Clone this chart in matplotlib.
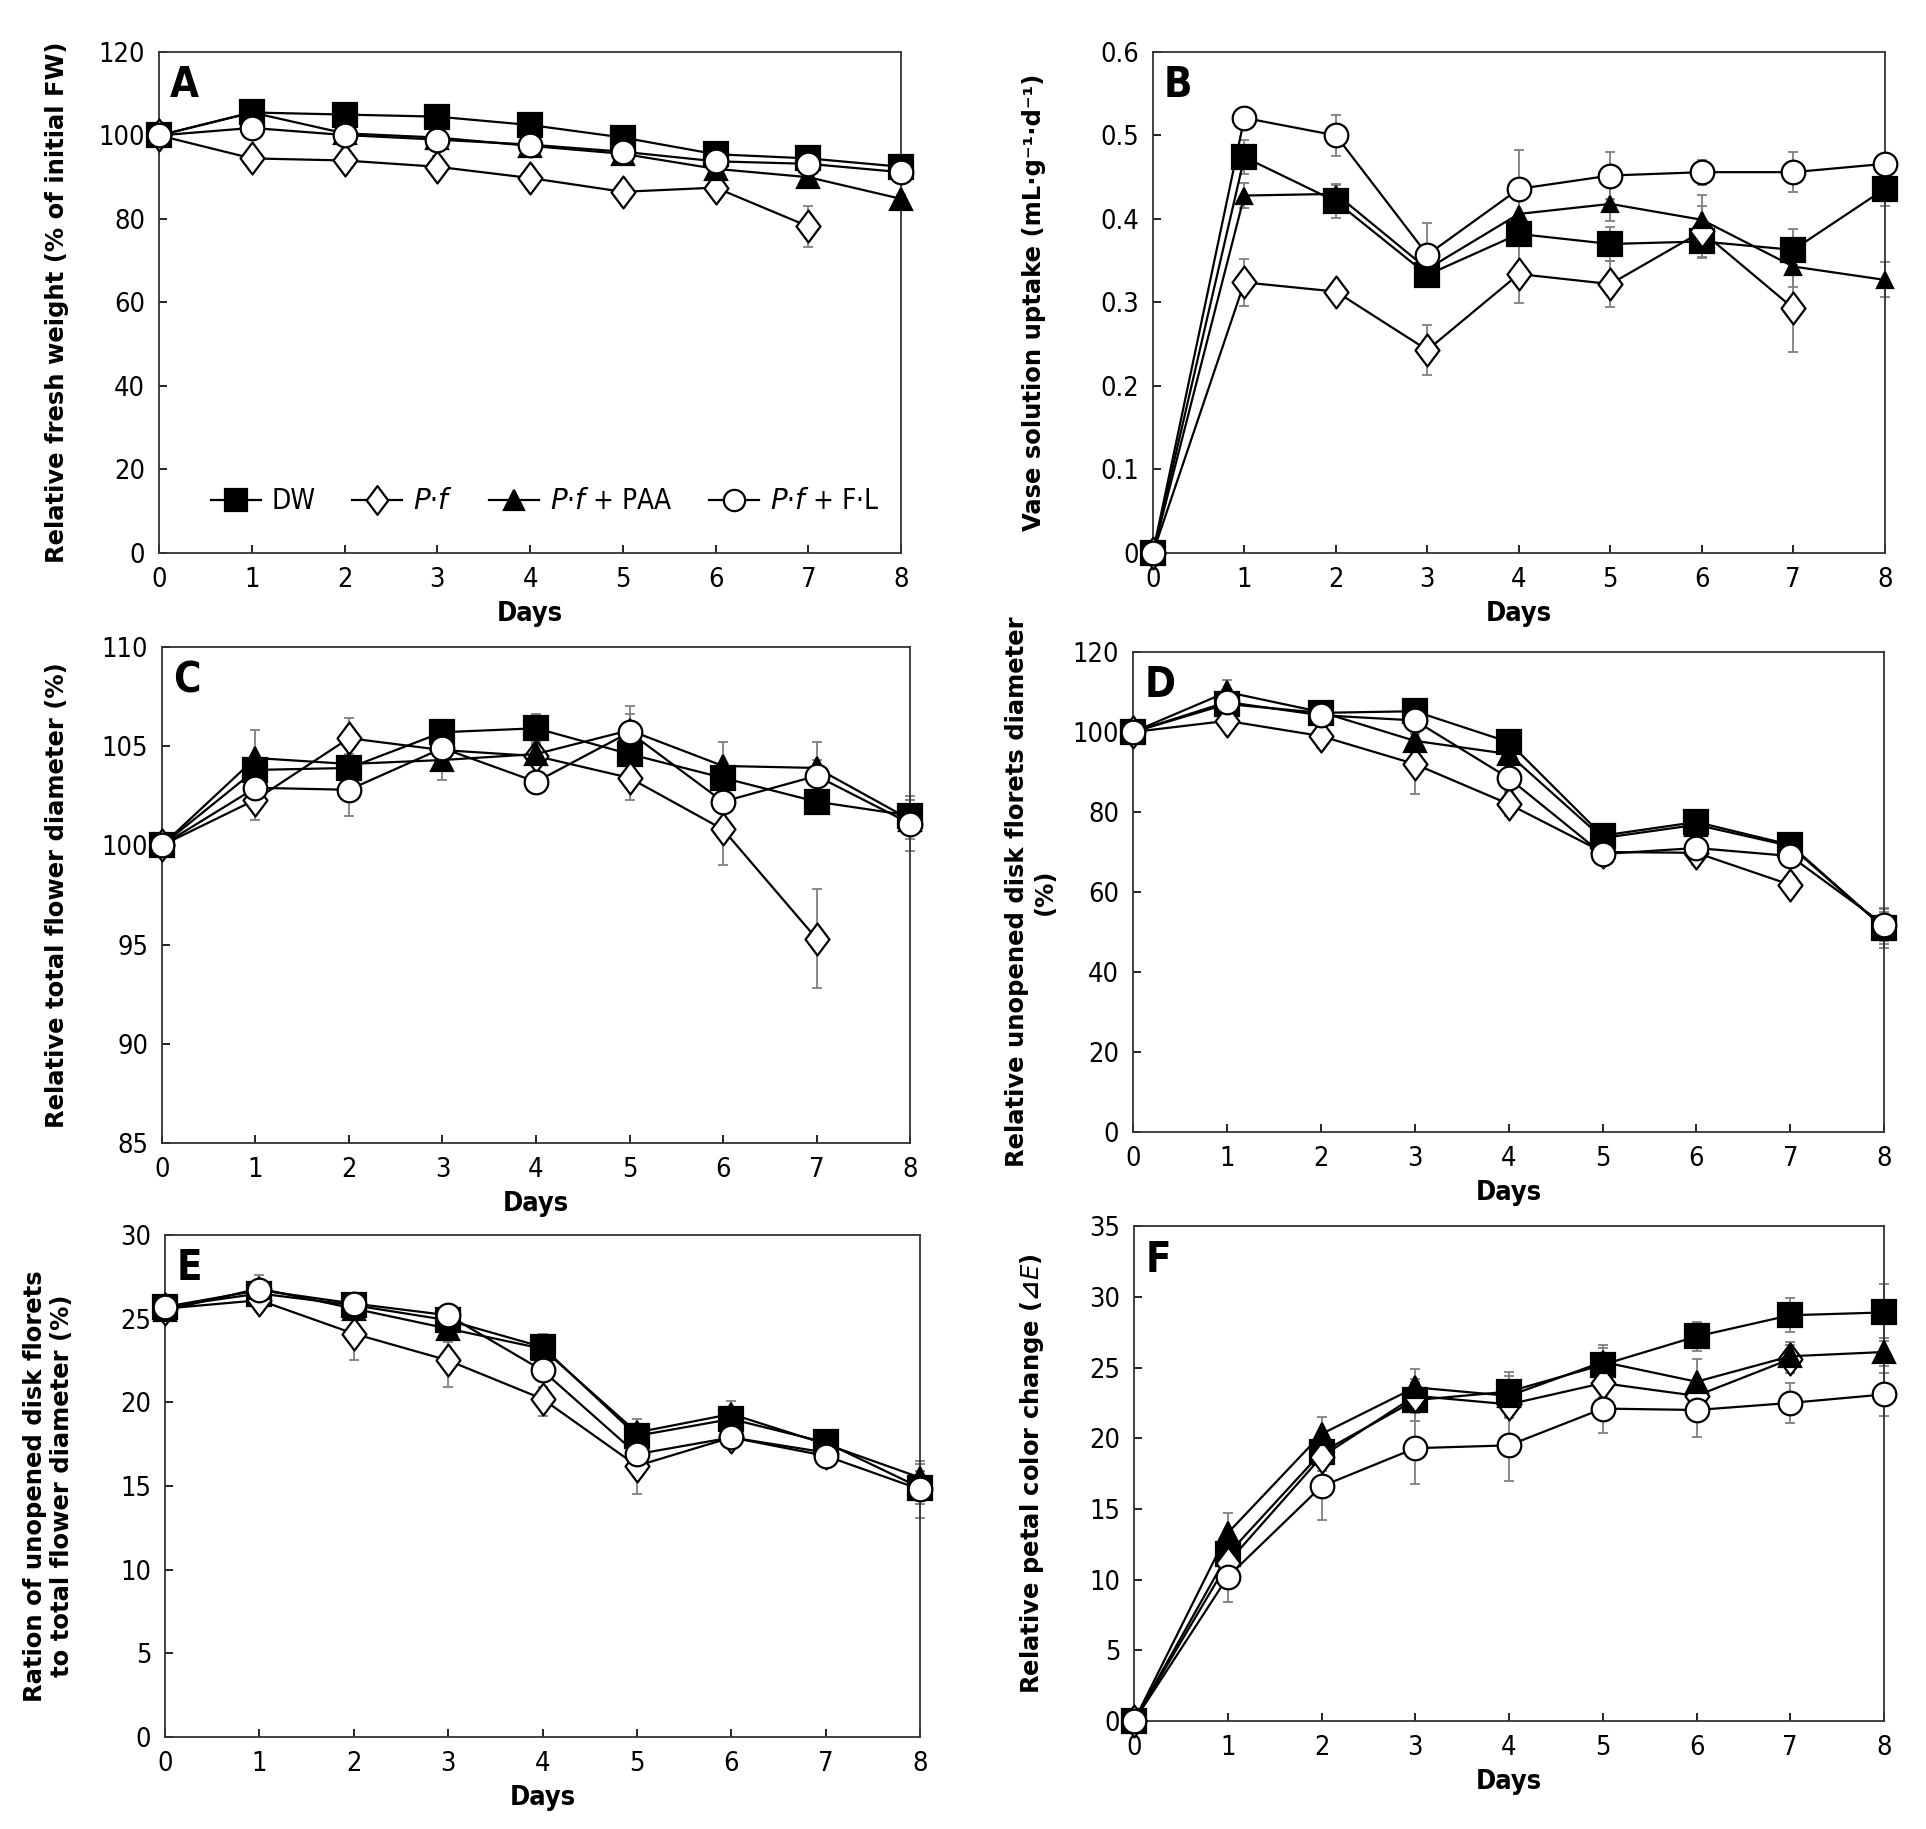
import matplotlib
matplotlib.use('Agg')
import matplotlib.pyplot as plt
import matplotlib.font_manager as fm
from matplotlib.path import Path

days = [0, 1, 2, 3, 4, 5, 6, 7, 8]
days_pf = [0, 1, 2, 3, 4, 5, 6, 7]

# A - relative fresh weight
a_dw = [100, 105.5, 105, 104.5, 102.5, 99.5, 95.5, 94.5, 92.5]
a_pf = [100, 94.5, 94, 92.5, 89.8, 86.5, 87.5, 78.2]
a_paa = [100, 105.5, 100.5, 99.5, 97.5, 95.6, 92, 90, 84.8]
a_fl = [100, 101.8, 100.1, 99, 97.8, 96.1, 93.8, 93.2, 91.2]
a_dw_err = [0, 2, 1, 1, 1, 1, 1, 1, 1]
a_pf_err = [0, 1, 1, 2.5, 1, 1, 1, 5]
a_paa_err = [0, 1, 1, 1, 1, 1, 1, 1, 1]
a_fl_err = [0, 1, 1, 1, 1, 1, 1, 1, 1]

# B - vase solution uptake
b_dw = [0, 0.474, 0.421, 0.333, 0.382, 0.370, 0.373, 0.363, 0.436]
b_pf = [0, 0.324, 0.313, 0.243, 0.334, 0.322, 0.385, 0.293]
b_paa = [0, 0.428, 0.430, 0.340, 0.406, 0.418, 0.399, 0.343, 0.327]
b_fl = [0, 0.521, 0.500, 0.357, 0.436, 0.452, 0.456, 0.456, 0.466]
b_dw_err = [0, 0.02, 0.02, 0.015, 0.015, 0.02, 0.02, 0.025, 0.02]
b_pf_err = [0, 0.028, 0.01, 0.03, 0.035, 0.028, 0.03, 0.052]
b_paa_err = [0, 0.015, 0.012, 0.01, 0.03, 0.02, 0.03, 0.025, 0.021]
b_fl_err = [0, 0.01, 0.025, 0.038, 0.046, 0.028, 0.015, 0.024, 0.01]

# C - relative total flower diameter
c_dw = [100, 103.8, 103.9, 105.7, 105.9, 104.6, 103.4, 102.2, 101.5]
c_pf = [100, 102.3, 105.4, 104.8, 104.5, 103.4, 100.8, 95.3]
c_paa = [100, 104.4, 104.1, 104.3, 104.6, 105.8, 104.0, 103.9, 101.3]
c_fl = [100, 102.9, 102.8, 104.9, 103.2, 105.7, 102.2, 103.5, 101.1]
c_dw_err = [0, 0.5, 0.5, 0.5, 0.7, 0.5, 0.7, 0.5, 0.8]
c_pf_err = [0, 1, 1, 0.6, 0.5, 1.1, 1.8, 2.5]
c_paa_err = [0, 1.4, 0.5, 1, 0.5, 0.8, 1.2, 1.3, 1.0]
c_fl_err = [0, 0.6, 1.3, 0.6, 0.5, 1.3, 0.6, 0.8, 1.4]

# D - relative unopened disk florets diameter
d_dw = [100, 107, 104.8, 105.2, 97.5, 74.1, 77.5, 71.8, 51]
d_pf = [100, 102.8, 99, 92, 82, 70, 69.8, 61.8]
d_paa = [100, 110, 105, 97.8, 94.5, 73.5, 76.8, 71.5, 51]
d_fl = [100, 107.5, 104.2, 102.9, 88.5, 69.5, 71.0, 69.0, 51.8]
d_dw_err = [0, 2, 2, 1, 2, 3, 3, 2, 4]
d_pf_err = [0, 2, 3, 7.5, 3, 2, 3, 2]
d_paa_err = [0, 3, 2, 2, 3, 2, 2, 2, 5]
d_fl_err = [0, 2, 2, 2, 3, 2, 2, 2, 4]

# E - ratio unopened disk florets / total flower diameter
e_dw = [25.7, 26.5, 25.8, 24.9, 23.3, 18.0, 19.0, 17.6, 14.9]
e_pf = [25.6, 26.1, 24.1, 22.5, 20.2, 16.2, 17.9, 17.0]
e_paa = [25.5, 26.8, 25.6, 24.4, 23.2, 18.2, 19.3, 17.5, 15.5]
e_fl = [25.7, 26.7, 25.9, 25.2, 21.9, 16.9, 17.9, 16.8, 14.8]
e_dw_err = [0, 0.5, 0.5, 0.5, 0.8, 0.6, 0.6, 0.5, 1.0]
e_pf_err = [0, 0.5, 1.6, 1.6, 1.0, 1.7, 0.5, 0.5]
e_paa_err = [0, 0.5, 0.5, 0.8, 0.8, 0.8, 0.8, 0.5, 0.8]
e_fl_err = [0, 0.9, 0.5, 0.5, 1.0, 0.5, 0.5, 0.5, 1.7]

# F - relative petal color change
f_dw = [0, 11.8, 19.0, 22.7, 23.3, 25.2, 27.2, 28.7, 28.9]
f_pf = [0, 11.2, 18.7, 23.0, 22.4, 23.9, 23.0, 25.6]
f_paa = [0, 13.3, 20.3, 23.6, 23.0, 25.4, 24.0, 25.8, 26.1]
f_fl = [0, 10.2, 16.6, 19.3, 19.5, 22.1, 22.0, 22.5, 23.1]
f_dw_err = [0, 1, 1, 1.5, 1.4, 1.2, 1, 1.2, 2]
f_pf_err = [0, 1, 1, 1, 1, 1, 1, 1]
f_paa_err = [0, 1.4, 1.2, 1.3, 1.4, 1.2, 1.6, 1.0, 1.0]
f_fl_err = [0, 1.8, 2.4, 2.5, 2.5, 1.7, 1.9, 1.4, 1.5]

legend_labels = ['DW', '$P$·$f$', '$P$·$f$ + PAA', '$P$·$f$ + F·L']

names = {f.name for f in fm.fontManager.ttflist}
if 'Liberation Sans Narrow' in names:
    narrow = dict(family='Liberation Sans Narrow')
else:
    narrow = dict(family='DejaVu Sans', stretch='condensed')

plt.rcParams['font.family'] = ['DejaVu Sans', 'Noto Sans CJK KR']
plt.rcParams['mathtext.fontset'] = 'custom'
plt.rcParams['mathtext.it'] = narrow['family'] + ':italic'
plt.rcParams['mathtext.rm'] = narrow['family']

diamond = Path([(0, 1), (0.75, 0), (0, -1), (-0.75, 0), (0, 1)],
               [Path.MOVETO, Path.LINETO, Path.LINETO, Path.LINETO, Path.CLOSEPOLY])

fig = plt.figure(figsize=(19.26, 18.29), dpi=100)


def panel(rect, letter, series, ylim, yticks, ylabel, lab_x, tri_size=16, ytick_labels=None):
    ax = fig.add_axes(rect)
    styles = [('s', 'black', 17), (diamond, 'white', 23), ('^', 'black', tri_size), ('o', 'white', 17)]
    handles = []
    for (x, y, err), (mk, fc, ms) in zip(series, styles):
        ax.errorbar(x, y, yerr=err, fmt='none', ecolor='#808080', elinewidth=1.3,
                    capsize=3.5, capthick=1.3, zorder=2, clip_on=False)
        h, = ax.plot(x, y, color='black', lw=1.6, marker=mk, ms=ms, mfc=fc, mec='black',
                     mew=1.6, zorder=3, clip_on=False)
        handles.append(h)
    ax.set_xlim(0, 8)
    ax.set_ylim(*ylim)
    ax.set_xticks(days)
    ax.set_yticks(yticks)
    if ytick_labels is not None:
        ax.set_yticklabels(ytick_labels)
    ax.tick_params(direction='in', length=6, width=1.2, labelsize=18, pad=10)
    for lab in ax.get_xticklabels() + ax.get_yticklabels():
        lab.set_fontproperties(fm.FontProperties(size=19.5, **narrow))
    for sp in ax.spines.values():
        sp.set_linewidth(1.3)
        sp.set_color('#333333')
    ax.set_xlabel('Days', fontsize=19.5, fontweight='bold', labelpad=6, **narrow)
    ax.set_ylabel(ylabel, fontsize=17.5, fontweight='bold', linespacing=1.2)
    ax.yaxis.set_label_coords(lab_x, 0.5)
    ax.text(0.015, 0.975, letter, transform=ax.transAxes, ha='left', va='top',
            fontsize=30, fontweight='bold', **narrow)
    return ax, handles


ax, hs = panel([0.0826, 0.6977, 0.3853, 0.2739], 'A',
               [(days, a_dw, a_dw_err), (days_pf, a_pf, a_pf_err),
                (days, a_paa, a_paa_err), (days, a_fl, a_fl_err)],
               (0, 120), range(0, 121, 20), 'Relative fresh weight (% of initial FW)', -0.122)
ax.legend(hs, legend_labels, loc='lower center', bbox_to_anchor=(0.52, 0.025), ncol=4,
          frameon=False, markerscale=0.9, handlelength=1.8, handletextpad=0.4,
          columnspacing=1.3, prop=fm.FontProperties(size=20, **narrow))

panel([0.5986, 0.6977, 0.3800, 0.2739], 'B',
      [(days, b_dw, b_dw_err), (days_pf, b_pf, b_pf_err),
       (days, b_paa, b_paa_err), (days, b_fl, b_fl_err)],
      (0, 0.6), [0, 0.1, 0.2, 0.3, 0.4, 0.5, 0.6],
      'Vase solution uptake (mL·g⁻¹·d⁻¹)', -0.146, tri_size=11,
      ytick_labels=['0', '0.1', '0.2', '0.3', '0.4', '0.5', '0.6'])

panel([0.0841, 0.3751, 0.3884, 0.2712], 'C',
      [(days, c_dw, c_dw_err), (days_pf, c_pf, c_pf_err),
       (days, c_paa, c_paa_err), (days, c_fl, c_fl_err)],
      (85, 110), range(85, 111, 5), 'Relative total flower diameter (%)', -0.124)

panel([0.5883, 0.3811, 0.3900, 0.2624], 'D',
      [(days, d_dw, d_dw_err), (days_pf, d_pf, d_pf_err),
       (days, d_paa, d_paa_err), (days, d_fl, d_fl_err)],
      (0, 120), range(0, 121, 20), 'Relative unopened disk florets diameter\n(%)', -0.102)

panel([0.0857, 0.0503, 0.3920, 0.2745], 'E',
      [(days, e_dw, e_dw_err), (days_pf, e_pf, e_pf_err),
       (days, e_paa, e_paa_err), (days, e_fl, e_fl_err)],
      (0, 30), range(0, 31, 5), 'Ration of unopened disk florets\nto total flower diameter (%)', -0.12)

panel([0.5888, 0.0590, 0.3894, 0.2706], 'F',
      [(days, f_dw, f_dw_err), (days_pf, f_pf, f_pf_err),
       (days, f_paa, f_paa_err), (days, f_fl, f_fl_err)],
      (0, 35), range(0, 36, 5), 'Relative petal color change (⊿$E$)', -0.117)

fig.savefig('out.png', dpi=100, facecolor='white')
